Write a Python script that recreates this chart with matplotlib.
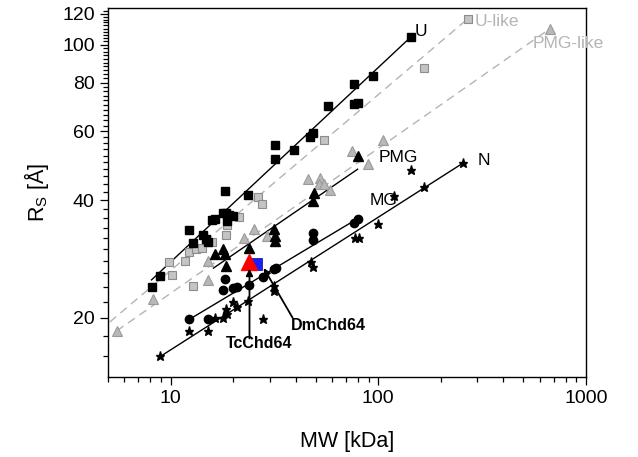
import numpy as np
import matplotlib
matplotlib.use("Agg")
import matplotlib.pyplot as plt
from matplotlib.ticker import FixedLocator, FixedFormatter, NullFormatter, LogLocator

plt.rcParams['font.family'] = ['Liberation Sans', 'DejaVu Sans']
plt.rcParams['mathtext.default'] = 'regular'

# U (black squares)
u_mw = [8.1, 8.85, 12.3, 12.8, 14.4, 14.9, 15.1, 15.8, 16.3, 17.8, 18.6, 19.2, 20.1, 18.8,
        18.2, 23.5, 31.7, 31.7, 39.1, 46.8, 48.3, 57.1, 76.2, 76.2, 79.6, 94.1, 144]
u_rs = [24.0, 25.6, 33.5, 31.1, 32.6, 31.8, 31.3, 35.6, 35.8, 37.1, 37.1, 36.6, 36.4, 35.4,
        42.2, 41.2, 55.3, 50.9, 53.7, 58.2, 59.3, 69.5, 79.1, 70.3, 71.0, 83.4, 104.8]
u_fit_mw = [8.1, 144]
u_fit_rs = [25.0, 104.8]

# U-like (grey squares)
ul_mw = [9.8, 10.2, 11.8, 12.3, 12.8, 13.3, 14.1, 15.9, 18.4, 18.8, 21.3, 26.3, 27.5, 54.6, 165.7, 270]
ul_rs = [27.8, 25.7, 28.0, 29.5, 24.1, 30.0, 30.2, 31.3, 32.6, 34.5, 36.2, 40.7, 39.1, 56.9, 87.3, 116.5]
ul_fit_mw = [5.1, 270]
ul_fit_rs = [19.5, 116.5]

# PMG (black triangles)
pmg_mw = [79.6, 48.9, 48.3, 31.4, 31.7, 31.7, 23.8, 17.8, 18.2, 16.3, 18.4]
pmg_rs = [51.8, 41.7, 39.8, 33.7, 32.4, 31.4, 30.2, 30.0, 29.1, 29.1, 27.1]
pmg_fit_mw = [16.1, 79.6]
pmg_fit_rs = [26.8, 48.0]

# PMG-like (grey triangles)
pl_mw = [5.5, 8.2, 15.1, 15.1, 22.5, 25.1, 29.0, 45.7, 52.3, 51.7, 54.6, 58.4, 74.5, 89.0, 105, 671]
pl_rs = [18.5, 22.4, 28.0, 25.0, 32.0, 33.7, 32.4, 45.3, 45.5, 43.9, 43.9, 42.4, 53.3, 49.4, 56.9, 109.9]
pl_fit_mw = [5.5, 671]
pl_fit_rs = [18.5, 109.9]

# MG (black circles)
mg_mw = [12.3, 15.1, 17.8, 18.2, 20.1, 21.0, 23.8, 27.8, 31.4, 32.1, 48.3, 48.3, 76.2, 79.6]
mg_rs = [19.9, 19.9, 23.6, 25.1, 23.9, 24.0, 24.3, 25.4, 26.7, 26.8, 32.9, 31.6, 34.9, 35.8]
mg_fit_mw = [12.5, 80.5]
mg_fit_rs = [19.9, 36.0]

# N (black stars)
n_mw = [8.85, 12.3, 15.1, 16.3, 17.8, 18.4, 18.8, 20.1, 21.0, 23.5, 27.8, 31.4, 31.4,
        47.3, 48.3, 77.0, 80.5, 100, 119, 144, 167, 255]
n_rs = [16.0, 18.5, 18.5, 20.0, 20.0, 21.0, 20.5, 22.0, 21.3, 22.1, 19.9, 24.1, 23.4,
        27.8, 27.0, 32.0, 32.0, 34.7, 40.9, 47.7, 43.2, 49.7]
n_fit_mw = [8.9, 255]
n_fit_rs = [15.9, 49.7]

# Chd64 proteins
tc_mw, tc_rs = [23.8], [27.8]
dm_mw, dm_rs = [25.7], [27.5]

fig = plt.figure(figsize=(6.38, 4.57), dpi=100)
ax = fig.add_axes([0.1693, 0.175, 0.749, 0.807])

grey_line = '#b4b4b4'
ax.plot(ul_fit_mw, ul_fit_rs, '--', color=grey_line, lw=1.0, dashes=(6, 4), zorder=1)
ax.plot(pl_fit_mw, pl_fit_rs, '--', color=grey_line, lw=1.0, dashes=(6, 4), zorder=1)
ax.plot(u_fit_mw, u_fit_rs, '-', color='black', lw=1.0, zorder=1)
ax.plot(pmg_fit_mw, pmg_fit_rs, '-', color='black', lw=1.0, zorder=1)
ax.plot(mg_fit_mw, mg_fit_rs, '-', color='black', lw=1.0, zorder=1)
ax.plot(n_fit_mw, n_fit_rs, '-', color='black', lw=1.0, zorder=1)

ax.plot(ul_mw, ul_rs, 's', ms=6, mfc='#c4c4c4', mec='#8c8c8c', mew=0.8, ls='none', zorder=2)
ax.plot(pl_mw, pl_rs, '^', ms=7.5, mfc='#b8b8b8', mec='#9a9a9a', mew=0.8, ls='none', zorder=2)
ax.plot(u_mw, u_rs, 's', ms=6, color='black', ls='none', zorder=3)
ax.plot(pmg_mw, pmg_rs, '^', ms=7, color='black', ls='none', zorder=3)
ax.plot(mg_mw, mg_rs, 'o', ms=6, color='black', ls='none', zorder=3)
ax.plot(n_mw, n_rs, '*', ms=6.5, color='black', ls='none', zorder=3)
ax.plot(dm_mw, dm_rs, 's', ms=9, mfc='#1c1cff', mec='#2020a0', mew=0.6, ls='none', zorder=4)
ax.plot(tc_mw, tc_rs, '^', ms=11, mfc='#ff0000', mec='#ff0000', ls='none', zorder=5)

# series labels
ax.text(150, 107.8, 'U', fontsize=12.5, va='center', ha='left')
ax.text(292, 114.4, 'U-like', fontsize=12.5, va='center', ha='left', color='#b4b4b4', clip_on=False)
ax.text(556, 100.6, 'PMG-like', fontsize=12.5, va='center', ha='left', color='#b4b4b4', clip_on=False)
ax.text(100, 51.5, 'PMG', fontsize=12.5, va='center', ha='left')
ax.text(91, 39.8, 'MG', fontsize=12.5, va='center', ha='left')
ax.text(302, 50.6, 'N', fontsize=12.5, va='center', ha='left')

# arrows + protein labels
arr = dict(arrowstyle='-|>', color='black', lw=1.3, mutation_scale=10, shrinkA=0, shrinkB=0)
ax.annotate('', xy=(24.0, 26.7), xytext=(24.0, 17.7), arrowprops=arr, zorder=6)
ax.text(26.8, 17.2, 'TcChd64', fontsize=11.5, fontweight='bold', ha='center', va='center')
ax.annotate('', xy=(28.1, 26.8), xytext=(38.7, 20.0), arrowprops=arr, zorder=6)
ax.text(57.7, 19.1, 'DmChd64', fontsize=11.5, fontweight='bold', ha='center', va='center')

ax.set_xscale('log')
ax.set_yscale('log')
ax.set_xlim(5, 1000)
ax.set_ylim(14.1, 124)

ax.xaxis.set_major_locator(FixedLocator([10, 100, 1000]))
ax.xaxis.set_minor_locator(LogLocator(base=10, subs=np.arange(2, 10)))
ax.xaxis.set_major_formatter(FixedFormatter(['10', '100', '1000']))
ax.xaxis.set_minor_formatter(NullFormatter())

y_major = [20, 40, 60, 80, 100, 120]
y_minor = [v for v in range(16, 124, 2) if v not in y_major]
ax.yaxis.set_major_locator(FixedLocator(y_major))
ax.yaxis.set_major_formatter(FixedFormatter([str(v) for v in y_major]))
ax.yaxis.set_minor_locator(FixedLocator(y_minor))
ax.yaxis.set_minor_formatter(NullFormatter())

ax.tick_params(which='both', direction='out', top=False, right=False, labelsize=14, width=0.9)
ax.tick_params(which='major', length=6)
ax.tick_params(which='minor', length=3.5)
for s in ax.spines.values():
    s.set_linewidth(1.0)

ax.set_xlabel('MW [kDa]', fontsize=15.5, labelpad=17)
ax.set_ylabel('R$_S$ [Å]', fontsize=15.5, labelpad=8)

fig.savefig('out.png', dpi=100)
